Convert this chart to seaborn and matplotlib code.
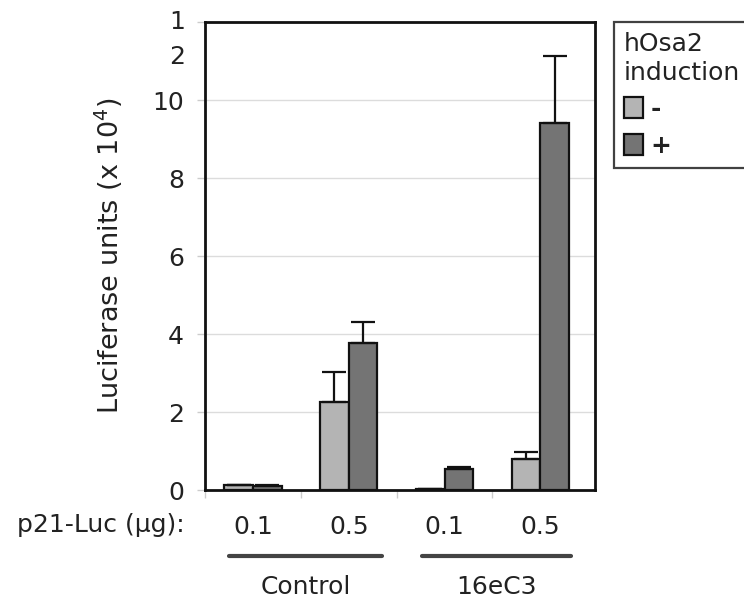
import numpy as np
import pandas as pd
import matplotlib
matplotlib.use('Agg')
import matplotlib.pyplot as plt
import matplotlib.transforms as mtransforms
from matplotlib.patches import Patch
import seaborn as sns

# ======== DATA ========
cells = ['Control', 'Control', '16eC3', '16eC3']
doses = ['0.1', '0.5', '0.1', '0.5']
induction_levels = ['-', '+']
minus_mean = [0.12, 2.25, 0.03, 0.80]
minus_err = [0.02, 0.77, 0.00, 0.17]
plus_mean = [0.10, 3.78, 0.53, 9.41]
plus_err = [0.02, 0.53, 0.05, 1.72]
y_ticks = [0, 2, 4, 6, 8, 10]

conditions = [f'{c} {d}' for c, d in zip(cells, doses)]
df = pd.DataFrame({
    'condition': conditions * 2,
    'induction': ['-'] * 4 + ['+'] * 4,
    'value': minus_mean + plus_mean,
})

# ======== STYLE ========
sns.set_style('white')
plt.rcParams['font.family'] = ['DejaVu Sans']
plt.rcParams['mathtext.default'] = 'regular'
FS = 18
TXT = '#222222'
LIGHT, DARK = '#b4b4b4', '#747474'

fig = plt.figure(figsize=(7.44, 6.03), dpi=100)
ax = fig.add_axes([205 / 744, 1 - 490 / 603, 390 / 744, 468 / 603])

sns.barplot(data=df, x='condition', y='value', hue='induction', order=conditions,
            hue_order=induction_levels, palette=[LIGHT, DARK], width=0.6,
            errorbar=None, edgecolor='#111111', linewidth=1.6, legend=False,
            ax=ax, zorder=3)

# one-sided error bars on top of each bar
bars = sorted([p for p in ax.patches if p.get_width() > 0], key=lambda p: p.get_x())
errs = [e for pair in zip(minus_err, plus_err) for e in pair]
for bar, e in zip(bars, errs):
    xc = bar.get_x() + bar.get_width() / 2
    h = bar.get_height()
    ax.errorbar(xc, h, yerr=[[0], [e]], fmt='none', ecolor='#111111',
                elinewidth=1.6, capsize=8.5, capthick=1.6, zorder=4)

# ======== AXES ========
ax.set_xlim(-0.5, 3.57)
ax.set_ylim(0, 12)
ax.set_yticks(y_ticks + [12])
ax.set_yticklabels([str(t) for t in y_ticks] + [''])
ax.yaxis.grid(True, color='#dcdcdc', linewidth=1, zorder=0)
ax.tick_params(axis='y', length=6, width=1, color='#cccccc', pad=9,
               labelsize=FS, labelcolor=TXT, left=True)
ax.text(-0.05, 12.3, '1\n2', transform=mtransforms.blended_transform_factory(ax.transAxes, ax.transData),
        ha='right', va='top', fontsize=FS, color=TXT, linespacing=1.55)

ax.set_xticks(range(4))
ax.set_xticklabels(doses)
ax.set_xticks([-0.5, 0.5, 1.5, 2.5], minor=True)
ax.tick_params(axis='x', which='major', length=0, pad=18, labelsize=FS, labelcolor=TXT)
ax.tick_params(axis='x', which='minor', length=6, width=1, color='#cccccc', bottom=True)
ax.set_xlabel('')
ax.set_ylabel('Luciferase units (x 10$^4$)', fontsize=19.5, color=TXT, labelpad=20)

for s in ax.spines.values():
    s.set_visible(True)
    s.set_color('#111111')
    s.set_linewidth(2)

# row label and group brackets under the axis
fig.text(185 / 744, 1 - 525 / 603, 'p21-Luc (\u03bcg):', ha='right', va='center',
         fontsize=FS, color=TXT)
trans = mtransforms.blended_transform_factory(ax.transData, ax.transAxes)
for x0, x1, name in [(-0.25, 1.35, 'Control'), (1.76, 3.32, '16eC3')]:
    ax.plot([x0, x1], [-0.141, -0.141], color='#444444', linewidth=3,
            transform=trans, clip_on=False)
    ax.text((x0 + x1) / 2, -0.208, name, transform=trans, ha='center', va='center',
            fontsize=FS, color=TXT)

# ======== LEGEND ========
handles = [Patch(facecolor=LIGHT, edgecolor='#111111', linewidth=1.6),
           Patch(facecolor=DARK, edgecolor='#111111', linewidth=1.6)]
leg = fig.legend(handles, induction_levels, title='hOsa2\ninduction',
                 loc='upper left', bbox_to_anchor=(614 / 744, 1 - 22 / 603),
                 fontsize=FS, title_fontsize=FS, frameon=True, fancybox=False,
                 edgecolor='#111111', borderpad=0.4, handlelength=0.75,
                 handleheight=0.9, handletextpad=0.3, labelspacing=0.5,
                 borderaxespad=0, alignment='left')
leg.get_frame().set_linewidth(1.6)
leg.get_title().set_color(TXT)
leg.get_title().set_linespacing(1.25)
for t in leg.get_texts():
    t.set_fontweight('bold')
    t.set_color(TXT)

fig.savefig('out.png', dpi=100)
